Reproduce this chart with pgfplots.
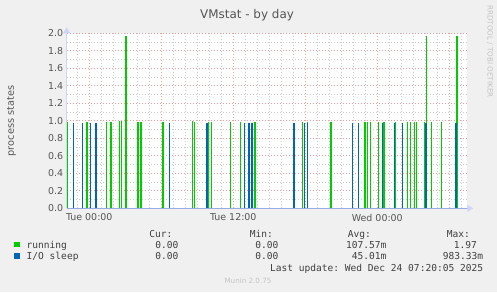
\documentclass[border=0pt]{standalone}
\usepackage{fontspec}
\setmainfont{DejaVu Sans}
\newfontfamily\monofont{DejaVu Sans Mono}
\usepackage{pgfplots}
\pgfplotsset{compat=1.18}
\usetikzlibrary{arrows.meta}
\definecolor{mgreen}{HTML}{00CC00}
\definecolor{mblue}{HTML}{0066B3}
\definecolor{bg}{HTML}{F0F0F0}
\definecolor{axc}{HTML}{CFD6F8}
\definecolor{axx}{HTML}{97ACE6}
\definecolor{gridminor}{HTML}{CCCCCC}
\definecolor{gridmajor}{HTML}{E6A0A0}
\definecolor{txt}{HTML}{555555}
\definecolor{legtxt}{HTML}{404040}
\definecolor{faint}{HTML}{C4C4C4}

\pgfplotstableread{
x y
-1.80 0.99
-0.17 0.99
1.42 0.99
1.81 0.99
2.52 1.00
2.69 1.00
3.08 1.97
4.08 0.99
4.31 0.99
6.14 0.99
8.62 1.00
8.75 0.99
9.92 0.99
10.17 0.99
11.75 0.99
12.60 0.99
13.83 0.99
17.75 0.99
18.17 0.99
20.14 0.99
22.99 0.99
23.18 0.99
23.42 0.99
24.08 0.99
24.57 0.99
25.52 0.99
26.53 0.99
26.75 0.99
27.08 0.99
27.25 0.99
27.92 0.99
28.08 1.97
28.50 0.99
29.33 0.99
30.65 1.97
}\running

\pgfplotstableread{
x y
-1.30 0.98
-0.57 0.98
0.10 0.98
0.58 0.98
6.67 0.98
9.81 0.98
12.95 0.98
13.33 0.98
13.58 0.98
17.06 0.98
17.92 0.98
18.18 0.98
21.92 0.98
22.42 0.98
24.43 0.98
25.42 0.98
26.08 0.98
28.04 0.98
30.56 0.98
}\iosleep

\begin{document}
\frenchspacing
\begin{tikzpicture}[x=1bp,y=1bp]
\fill[bg] (0,0) rectangle (497,292);
\useasboundingbox (0,0) rectangle (497,292);
\begin{axis}[
  at={(66.7bp,83.7bp)}, anchor=south west,
  scale only axis, width=400.6bp, height=175bp,
  xmin=-1.88, xmax=31.5, ymin=0, ymax=2.0,
  axis lines=left,
  x axis line style={draw=axx, line width=1.2bp, -{Triangle[length=6bp,width=7bp,color=axc]}, shorten >=-6bp},
  y axis line style={draw=axc, line width=1bp, -{Triangle[length=6bp,width=7bp]}, shorten >=-6bp},
  axis background/.style={fill=white},
  xtick={0,6,12,18,24,30},
  xticklabels={Tue 00:00,,Tue 12:00,,Wed 00:00,},
  minor xtick={-1,1,2,3,4,5,7,8,9,10,11,13,14,15,16,17,19,20,21,22,23,25,26,27,28,29,31},
  ytick={0,0.2,0.4,0.6,0.8,1.0,1.2,1.4,1.6,1.8,2.0},
  minor ytick={0.1,0.3,0.5,0.7,0.9,1.1,1.3,1.5,1.7,1.9},
  grid=both,
  major grid style={draw=gridmajor, dash pattern=on 1bp off 2bp, line width=0.8bp},
  minor grid style={draw=gridminor, dash pattern=on 1bp off 2bp, line width=0.8bp},
  major tick length=0pt, minor tick length=0pt,
  tick style={draw=none},
  tick label style={font=\fontsize{9.5}{10}\selectfont, text=txt},
  yticklabel style={/pgf/number format/.cd, fixed, fixed zerofill, precision=1},
  xticklabel style={yshift=-2bp},
  /pgf/number format/assume math mode=true,
  clip=true,
]
\addplot[ycomb, draw=mgreen, line width=1.5bp, no marks] table[x=x,y=y] {\running};
\addplot[ycomb, draw=mblue, line width=1.5bp, no marks] table[x=x,y=y] {\iosleep};
\end{axis}

% title and side texts
\node[anchor=base, font=\fontsize{12}{14}\selectfont, text=txt] at (247,273.7) {VMstat - by day};
\node[rotate=90, font=\fontsize{9.8}{12}\selectfont, text=txt] at (11.5,171) {process states};
\node[rotate=-90, anchor=west, inner sep=0pt, font=\fontsize{7.2}{9}\selectfont, text=faint] at (490,287) {RRDTOOL / TOBI OETIKER};

% legend
\begin{scope}[every node/.style={inner sep=0pt, font=\monofont\fontsize{9.6}{11}\selectfont, text=legtxt}]
\node[anchor=base east] at (172.5,55) {Cur:};
\node[anchor=base east] at (273,55) {Min:};
\node[anchor=base east] at (371,55) {Avg:};
\node[anchor=base east] at (470,55) {Max:};
\fill[mgreen] (14,44.7) rectangle (20,49.7);
\node[anchor=base west] at (26.5,44) {running};
\node[anchor=base east] at (178.5,44) {0.00};
\node[anchor=base east] at (278.5,44) {0.00};
\node[anchor=base east] at (386.7,44) {107.57m};
\node[anchor=base east] at (477,44) {1.97};
\fill[mblue] (14,33.3) rectangle (20,38.7);
\node[anchor=base west] at (26.5,32.5) {I/O sleep};
\node[anchor=base east] at (178.5,32.5) {0.00};
\node[anchor=base east] at (278.5,32.5) {0.00};
\node[anchor=base east] at (386.7,32.5) {45.01m};
\node[anchor=base east] at (483.3,32.5) {983.33m};
\node[anchor=base east] at (483.3,20.5) {Last update: Wed Dec 24 07:20:05 2025};
\end{scope}
\node[anchor=base, inner sep=0pt, font=\fontsize{7.2}{9}\selectfont, text=faint] at (248,9) {Munin 2.0.75};
\end{tikzpicture}
\end{document}
